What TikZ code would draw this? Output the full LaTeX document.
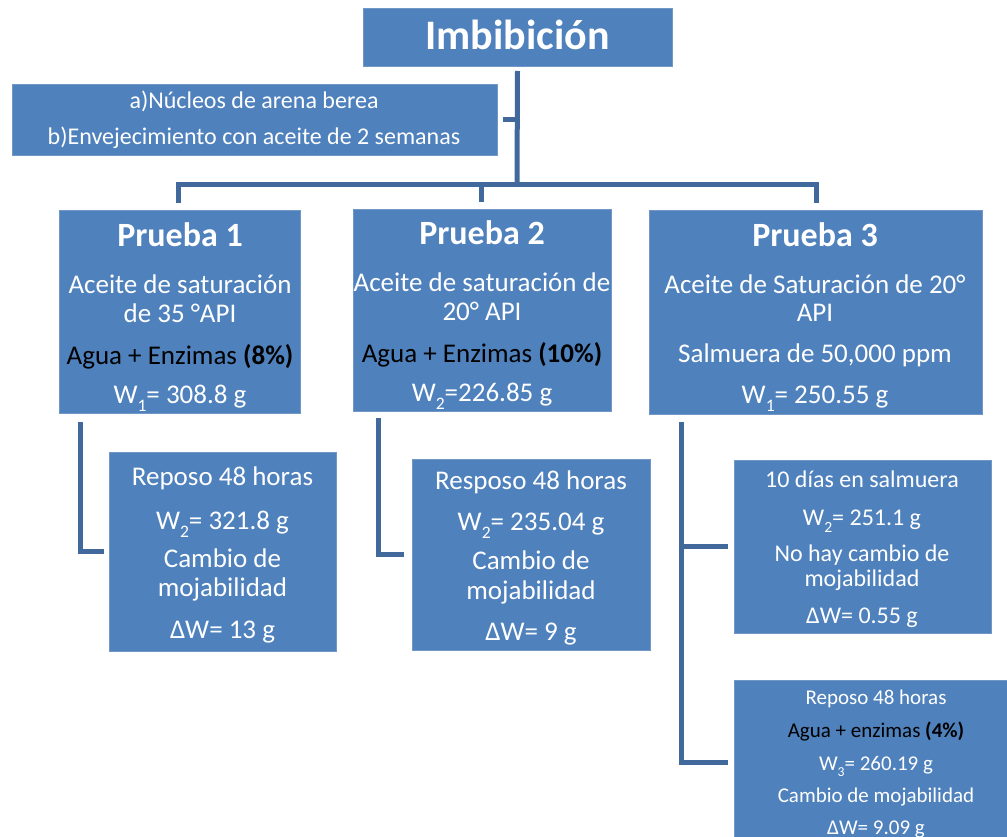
\documentclass[tikz,border=0pt]{standalone}
\usepackage{fontspec}
\setmainfont{Carlito}
\usetikzlibrary{calc}
\definecolor{boxfill}{HTML}{4F81BD}
\definecolor{boxline}{HTML}{7097C6}
\definecolor{connc}{HTML}{41699C}
\newcommand\mysub[1]{\raisebox{-0.3em}{\scalebox{0.65}{#1}}}
\tikzset{
  box/.style={draw=boxline, fill=boxfill, line width=0.8pt, anchor=north west, inner sep=0pt, outer sep=0pt},
  conn/.style={draw=connc, line width=5pt},
  txt/.style={anchor=base, text=white, inner sep=0pt},
  blk/.style={anchor=base, text=black, inner sep=0pt},
  fT/.style={font=\fontsize{42}{42}\selectfont\bfseries},
  fH/.style={font=\fontsize{34}{34}\selectfont\bfseries},
  fA/.style={font=\fontsize{27}{27}\selectfont},
  fB/.style={font=\fontsize{24}{24}\selectfont},
  fC/.style={font=\fontsize{21}{21}\selectfont},
}
\begin{document}
\begin{tikzpicture}[x=1pt,y=-1pt]
\useasboundingbox (0,0) rectangle (1007,837);
% boxes
\node[box, minimum width=309pt, minimum height=58pt] (title) at (363,8) {};
\node[box, minimum width=485pt, minimum height=71pt] (info) at (12,84) {};
\node[box, minimum width=241pt, minimum height=203pt] (p1) at (59,210) {};
\node[box, minimum width=258pt, minimum height=202pt] (p2) at (353,209) {};
\node[box, minimum width=333pt, minimum height=204pt] (p3) at (649,210) {};
\node[box, minimum width=227pt, minimum height=199pt] (s1) at (109,452) {};
\node[box, minimum width=238pt, minimum height=191pt] (s2) at (412,459) {};
\node[box, minimum width=257pt, minimum height=173pt] (s3) at (734,460) {};
\node[box, minimum width=286pt, minimum height=190pt] (s4) at (734,680) {};
% connectors
\coordinate (bar) at (517,185);
\draw[conn] ($(title.south)+(0,5)$) -- (bar);
\draw[conn] ($(info.east)+(6,0)$) -- (title.south |- info.east);
\draw[conn] ($(p1.north)+(-1,-7)$) |- ($(p3.north)+(1,-25)$) -- ($(p3.north)+(1,-7)$);
\draw[conn] ($(p2.north)+(-1,-7)$) -- ($(p2.north)+(-1,-25)$);
\draw[conn] ($(p1.south west)+(21,9)$) |- ($(s1.west)+(-5,0)$);
\draw[conn] ($(p2.south west)+(25,7)$) |- ($(s2.west)+(-8,0)$);
\draw[conn] ($(p3.south west)+(32,8)$) |- ($(s4.north west)+(-6,82)$);
\draw[conn] ([xshift=32pt]p3.south west |- s3.west) -- ($(s3.west)+(-6,0)$);
% texts
\node[txt, fT] (tT) at (517.5,50) {Imbibición};
\node[txt, fB] (i1) at (254,109) {a)Núcleos de arena berea};
\node[txt, fB] (i2) at (254,145) {b)Envejecimiento con aceite de 2 semanas};
% Prueba 1
\node[txt, fH] (p1a) at (180,247) {Prueba 1};
\node[txt, fA] (p1b) at (180,293) {Aceite de saturación};
\node[txt, fA] (p1c) at (180,322) {de 35 °API};
\node[blk, fA] (p1d) at (180,364) {Agua + Enzimas \textbf{(8\%)}};
\node[txt, fA] (p1e) at (180,403) {W\mysub{1}= 308.8 g};
% Prueba 2
\node[txt, fH] (p2a) at (482,244) {Prueba 2};
\node[txt, fA] (p2b) at (482,291) {Aceite de saturación de};
\node[txt, fA] (p2c) at (482,320) {20° API};
\node[blk, fA] (p2d) at (482,362) {Agua + Enzimas \textbf{(10\%)}};
\node[txt, fA] (p2e) at (482,401) {W\mysub{2}=226.85 g};
% Prueba 3
\node[txt, fH] (p3a) at (815,247) {Prueba 3};
\node[txt, fA] (p3b) at (815,293) {Aceite de Saturación de 20°};
\node[txt, fA] (p3c) at (815,321) {API};
\node[txt, fA] (p3d) at (815,362) {Salmuera de 50,000 ppm};
\node[txt, fA] (p3e) at (815,403) {W\mysub{1}= 250.55 g};
% s1
\node[txt, fA] (s1a) at (222.5,485) {Reposo 48 horas};
\node[txt, fA] (s1b) at (222.5,529) {W\mysub{2}= 321.8 g};
\node[txt, fA] (s1c) at (222.5,567) {Cambio de};
\node[txt, fA] (s1d) at (222.5,596) {mojabilidad};
\node[txt, fA] (s1e) at (222.5,638) {ΔW= 13 g};
% s2
\node[txt, fA] (s2a) at (531,489) {Resposo 48 horas};
\node[txt, fA] (s2b) at (531,530) {W\mysub{2}= 235.04 g};
\node[txt, fA] (s2c) at (531,569) {Cambio de};
\node[txt, fA] (s2d) at (531,599) {mojabilidad};
\node[txt, fA] (s2e) at (531,640) {ΔW= 9 g};
% s3
\node[txt, fB] (s3a) at (862,487) {10 días en salmuera};
\node[txt, fB] (s3b) at (862,525) {W\mysub{2}= 251.1 g};
\node[txt, fB] (s3c) at (862,561) {No hay cambio de};
\node[txt, fB] (s3d) at (862,586) {mojabilidad};
\node[txt, fB] (s3e) at (862,623) {ΔW= 0.55 g};
% s4
\node[txt, fC] (s4a) at (876,704) {Reposo 48 horas};
\node[blk, fC] (s4b) at (876,737) {Agua + enzimas \textbf{(4\%)}};
\node[txt, fC] (s4c) at (876,770) {W\mysub{3}= 260.19 g};
\node[txt, fC] (s4d) at (876,802) {Cambio de mojabilidad};
\node[txt, fC] (s4e) at (876,834) {ΔW= 9.09 g};
\end{tikzpicture}
\end{document}
